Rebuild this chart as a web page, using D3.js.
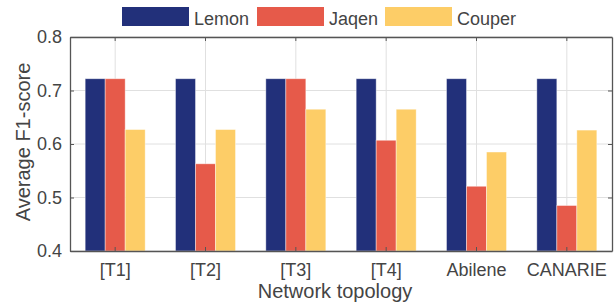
<!DOCTYPE html>
<html>
<head>
<meta charset="utf-8">
<script src="https://cdn.jsdelivr.net/npm/d3@7"></script>
<style>
  body { margin: 0; background: #fff; }
  svg text { font-family: "Liberation Sans", Arial, sans-serif; fill: #444; }
</style>
</head>
<body>
<svg id="svg" width="616" height="308"></svg>
<script>
const topologies = ['[T1]', '[T2]', '[T3]', '[T4]', 'Abilene', 'CANARIE']
const seriesNames = ['Lemon', 'Jaqen', 'Couper']
const lemon = [0.722, 0.722, 0.722, 0.722, 0.722, 0.722]
const jaqen = [0.722, 0.563, 0.722, 0.607, 0.521, 0.485]
const couper = [0.627, 0.627, 0.665, 0.665, 0.585, 0.626]
const yTicks = [0.4, 0.5, 0.6, 0.7, 0.8]
const colors = ['#22307a', '#e65a4a', '#fdcd67']

const series = [lemon, jaqen, couper]

let svg = d3.select('#svg')

let plotLeft = 70, plotRight = 612, plotTop = 37, plotBottom = 251

let x = d3.scaleBand().domain(topologies).range([plotLeft, plotRight]).padding(0)
let xInner = d3.scaleBand().domain(seriesNames).range([0, 60])
let y = d3.scaleLinear().domain([0.4, 0.8]).range([plotBottom, plotTop])

// grid
svg.append('g')
  .selectAll('line')
  .data(topologies)
  .enter()
  .append('line')
  .attr('x1', d => x(d) + x.bandwidth() / 2)
  .attr('x2', d => x(d) + x.bandwidth() / 2)
  .attr('y1', plotTop)
  .attr('y2', plotBottom)
  .attr('stroke', '#e0e0e0')
  .attr('stroke-width', 1)

svg.append('g')
  .selectAll('line')
  .data(yTicks)
  .enter()
  .append('line')
  .attr('x1', plotLeft)
  .attr('x2', plotRight)
  .attr('y1', d => y(d))
  .attr('y2', d => y(d))
  .attr('stroke', '#e0e0e0')
  .attr('stroke-width', 1)

// bars
let groupOffset = (x.bandwidth() - 60) / 2
series.forEach((vals, s) => {
  svg.append('g')
    .selectAll('rect')
    .data(vals)
    .enter()
    .append('rect')
    .attr('x', (d, i) => x(topologies[i]) + groupOffset + xInner(seriesNames[s]))
    .attr('width', xInner.bandwidth())
    .attr('y', d => y(d))
    .attr('height', d => plotBottom - y(d))
    .attr('fill', colors[s])
    .attr('stroke', 'rgba(255,255,255,0.5)')
    .attr('stroke-width', 0.8)
})

// axes
let xAxis = d3.axisBottom(x).tickSize(-4).tickPadding(12)
let xTop = d3.axisTop(x).tickSize(-4).tickFormat('')
let yAxis = d3.axisLeft(y).tickValues(yTicks).tickSize(-4).tickPadding(8).tickFormat(d3.format('.1f'))
let yRight = d3.axisRight(y).tickValues(yTicks).tickSize(-4).tickFormat('')

function styleAxis(g) {
  g.select('.domain').attr('stroke', '#555').attr('stroke-width', 1.3)
  g.selectAll('.tick line').attr('stroke', '#555')
  g.selectAll('.tick text').attr('font-size', 18).attr('fill', '#444')
    .attr('font-family', '"Liberation Sans", Arial, sans-serif')
}

svg.append('g').attr('transform', `translate(0,${plotBottom})`).call(xAxis.tickSizeOuter(0)).call(styleAxis)
svg.append('g').attr('transform', `translate(0,${plotTop})`).call(xTop.tickSizeOuter(0)).call(styleAxis)
svg.append('g').attr('transform', `translate(${plotLeft},0)`).call(yAxis.tickSizeOuter(0)).call(styleAxis)
svg.append('g').attr('transform', `translate(${plotRight},0)`).call(yRight.tickSizeOuter(0)).call(styleAxis)

// axis titles
svg.append('text')
  .attr('x', (plotLeft + plotRight) / 2 - 6)
  .attr('y', 298)
  .attr('text-anchor', 'middle')
  .attr('font-size', 20)
  .text('Network topology')

svg.append('text')
  .attr('transform', 'translate(30,142) rotate(-90)')
  .attr('text-anchor', 'middle')
  .attr('font-size', 20)
  .text('Average F1-score')

// legend
let legendX = [122, 257, 385]
let legend = svg.append('g')
  .selectAll('g')
  .data(seriesNames)
  .enter()
  .append('g')
  .attr('transform', (d, i) => `translate(${legendX[i]},7)`)

legend.append('rect')
  .attr('width', 67)
  .attr('height', 19)
  .attr('fill', (d, i) => colors[i])

legend.append('text')
  .attr('x', 72)
  .attr('y', 18)
  .attr('font-size', 18)
  .attr('fill', '#222')
  .text(d => d)
</script>
</body>
</html>
